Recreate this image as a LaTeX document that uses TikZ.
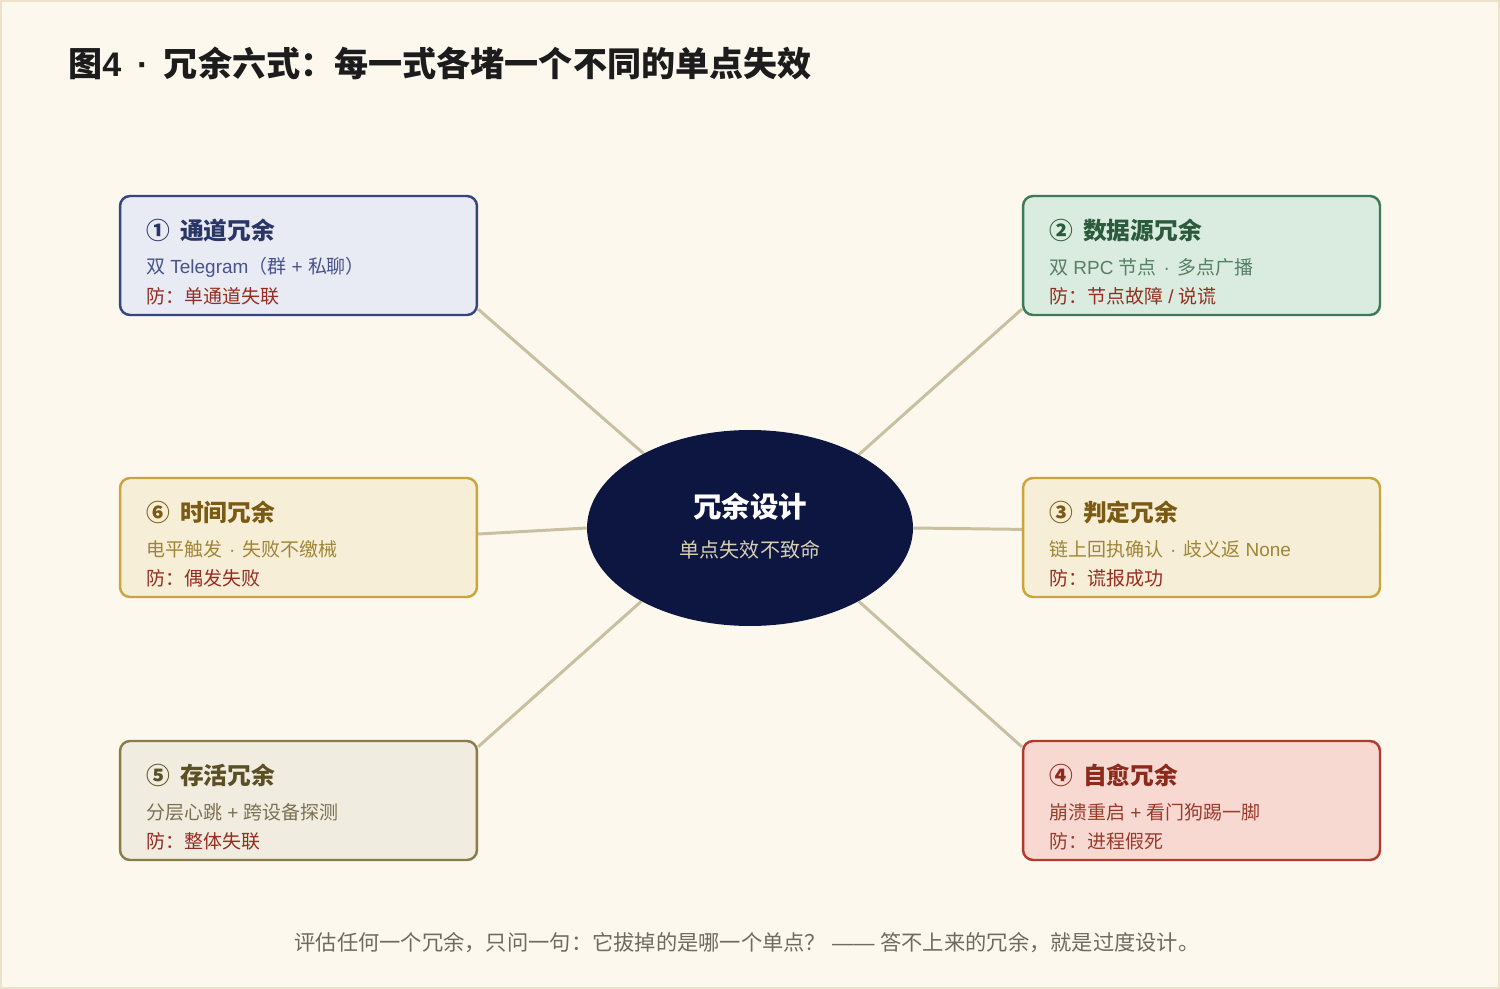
\documentclass[tikz,border=0pt]{standalone}
\usepackage{fontspec}
\setmainfont{Noto Sans CJK SC}
\newfontfamily\latinfont{Liberation Sans}
\newcommand{\lat}[1]{{\latinfont #1}}
\newcommand{\middot}{\lat{\kern1pt\ ·\ \kern1pt}}
\usetikzlibrary{shapes, positioning, calc, backgrounds}
\definecolor{PaperBg}{HTML}{FCF8EE}
\definecolor{PaperEdge}{HTML}{EBE2C9}
\definecolor{TitleInk}{HTML}{1C1C1C}
\definecolor{FootGrey}{HTML}{6E6A62}
\definecolor{LinkTan}{HTML}{C9BFA1}
\definecolor{HubNavy}{HTML}{0D1541}
\definecolor{HubSub}{HTML}{D9D0B3}
\definecolor{WarnRed}{HTML}{962D20}
\definecolor{BlueFill}{HTML}{E8EAF4}
\definecolor{BlueLine}{HTML}{34457F}
\definecolor{BlueHead}{HTML}{2A3766}
\definecolor{BlueText}{HTML}{46548A}
\definecolor{GreenFill}{HTML}{D9ECDF}
\definecolor{GreenLine}{HTML}{3F7A58}
\definecolor{GreenHead}{HTML}{2C5A3C}
\definecolor{GreenText}{HTML}{567F64}
\definecolor{GoldFill}{HTML}{F6EED6}
\definecolor{GoldLine}{HTML}{C9A53D}
\definecolor{GoldHead}{HTML}{7B5B14}
\definecolor{GoldText}{HTML}{A08538}
\definecolor{RoseFill}{HTML}{F8D9D2}
\definecolor{RoseLine}{HTML}{B23A2C}
\definecolor{RoseHead}{HTML}{8C2B1C}
\definecolor{RoseText}{HTML}{9A3B2C}
\definecolor{OliveFill}{HTML}{F0ECE0}
\definecolor{OliveLine}{HTML}{8B7B48}
\definecolor{OliveHead}{HTML}{5B4F24}
\definecolor{OliveText}{HTML}{7B7050}

\begin{document}
\begin{tikzpicture}[x=0.02cm, y=-0.02cm,
    card/.style={rounded corners=0.2cm, line width=1.4pt, minimum width=7.14cm, minimum height=2.38cm, inner sep=0},
    cardhead/.style={anchor=west, inner sep=0, font=\fontsize{13.5}{16}\selectfont\bfseries},
    cardline/.style={anchor=west, inner sep=0, font=\fontsize{10.8}{13}\selectfont},
    link/.style={draw=LinkTan, line width=1.7pt},
  ]
  \useasboundingbox (0,0) rectangle (1500,989);
  \begin{scope}[on background layer]
    \fill[PaperBg] (0,0) rectangle (1500,989);
    \draw[PaperEdge, line width=1.2pt] (1,1) rectangle (1499,988);
  \end{scope}
  % Tiêu đề
  \node[anchor=west, inner sep=0, TitleInk, font=\fontsize{19.4}{23}\selectfont\bfseries] (heading) at (68,63) {图\lat{4\kern3.5pt\ ·\ \kern3.5pt}冗余六式：每一式各堵一个不同的单点失效};
  % Trung tâm
  \node[ellipse, fill=HubNavy, minimum width=6.52cm, minimum height=3.92cm] (hub) at (750,528) {};
  \node[white, font=\fontsize{16.2}{19}\selectfont\bfseries] (hubhead) at (750,507) {冗余设计};
  \node[HubSub, font=\fontsize{11.4}{14}\selectfont] (hubsub) at (750,550) {单点失效不致命};
  % Sáu thẻ
  \node[card, fill=BlueFill, draw=BlueLine] (b1) at (298.5,255.5) {};
  \node[cardhead, BlueHead] (b1head) at ($(b1.north west)+(27,36)$) {①\kern2.8pt\ 通道冗余};
  \node[cardline, BlueText] (b1sub) at ($(b1.north west)+(27,72.5)$) {双\lat{ Telegram}（群\lat{ + }私聊）};
  \node[cardline, WarnRed] (b1warn) at ($(b1.north west)+(27,101.5)$) {防：单通道失联};
  \node[card, fill=GreenFill, draw=GreenLine] (b2) at (1201.5,255.5) {};
  \node[cardhead, GreenHead] (b2head) at ($(b2.north west)+(27,36)$) {②\kern2.8pt\ 数据源冗余};
  \node[cardline, GreenText] (b2sub) at ($(b2.north west)+(27,72.5)$) {双\lat{ RPC }节点\middot 多点广播};
  \node[cardline, WarnRed] (b2warn) at ($(b2.north west)+(27,101.5)$) {防：节点故障\lat{ / }说谎};
  \node[card, fill=GoldFill, draw=GoldLine] (b3) at (1201.5,537.5) {};
  \node[cardhead, GoldHead] (b3head) at ($(b3.north west)+(27,36)$) {③\kern2.8pt\ 判定冗余};
  \node[cardline, GoldText] (b3sub) at ($(b3.north west)+(27,72.5)$) {链上回执确认\middot 歧义返\lat{ None}};
  \node[cardline, WarnRed] (b3warn) at ($(b3.north west)+(27,101.5)$) {防：谎报成功};
  \node[card, fill=RoseFill, draw=RoseLine] (b4) at (1201.5,800.5) {};
  \node[cardhead, RoseHead] (b4head) at ($(b4.north west)+(27,36)$) {④\kern2.8pt\ 自愈冗余};
  \node[cardline, RoseText] (b4sub) at ($(b4.north west)+(27,72.5)$) {崩溃重启\lat{ + }看门狗踢一脚};
  \node[cardline, RoseText] (b4warn) at ($(b4.north west)+(27,101.5)$) {防：进程假死};
  \node[card, fill=OliveFill, draw=OliveLine] (b5) at (298.5,800.5) {};
  \node[cardhead, OliveHead] (b5head) at ($(b5.north west)+(27,36)$) {⑤\kern2.8pt\ 存活冗余};
  \node[cardline, OliveText] (b5sub) at ($(b5.north west)+(27,72.5)$) {分层心跳\lat{ + }跨设备探测};
  \node[cardline, WarnRed] (b5warn) at ($(b5.north west)+(27,101.5)$) {防：整体失联};
  \node[card, fill=GoldFill, draw=GoldLine] (b6) at (298.5,537.5) {};
  \node[cardhead, GoldHead] (b6head) at ($(b6.north west)+(27,36)$) {⑥\kern2.8pt\ 时间冗余};
  \node[cardline, GoldText] (b6sub) at ($(b6.north west)+(27,72.5)$) {电平触发\middot 失败不缴械};
  \node[cardline, WarnRed] (b6warn) at ($(b6.north west)+(27,101.5)$) {防：偶发失败};
  % Đường nối
  \begin{scope}[on background layer]
    \draw[link] (hub.145.7) -- ($(b1.south east)+(0,-7)$);
    \draw[link] (hub.34.3) -- ($(b2.south west)+(0,-7)$);
    \draw[link] (hub.east) -- ($(b3.east)+(0,-3.5)$);
    \draw[link] (hub.-34.3) -- ($(b4.north west)+(0,7)$);
    \draw[link] (hub.214.3) -- ($(b5.north east)+(0,7)$);
    \draw[link] (hub.west) -- ($(b6.east)+(0,-3.5)$);
  \end{scope}
  % Chú thích dưới
  \node[FootGrey, font=\fontsize{12.1}{15}\selectfont] (footnote) at (747,943) {评估任何一个冗余，只问一句：它拔掉的是哪一个单点？\lat{ —— }答不上来的冗余，就是过度设计。};
\end{tikzpicture}
\end{document}
